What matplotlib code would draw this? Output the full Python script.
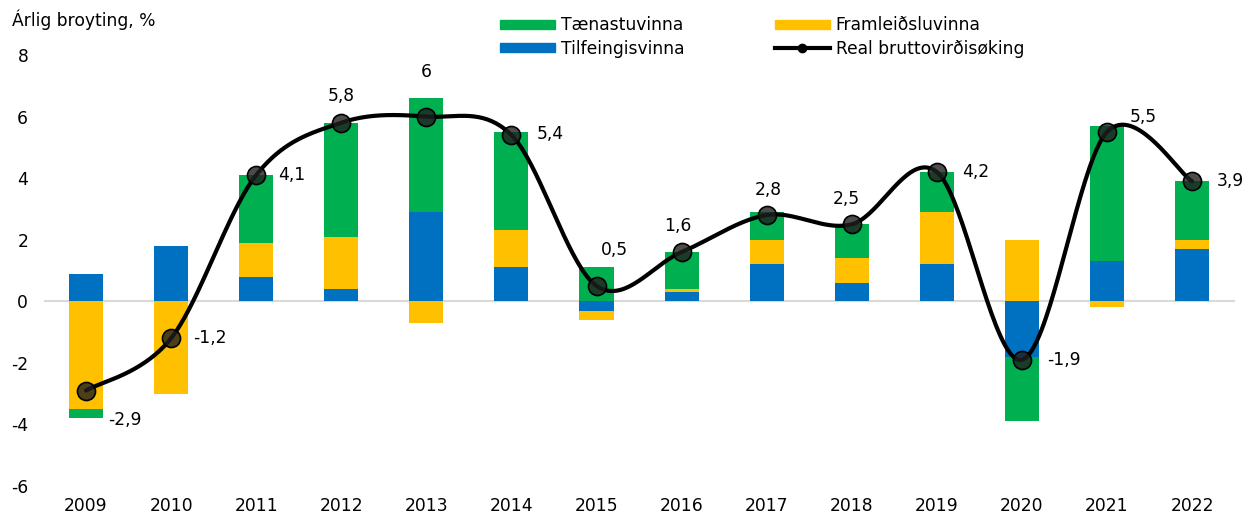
import numpy as np
import matplotlib
matplotlib.use("Agg")
import matplotlib.pyplot as plt
from matplotlib.lines import Line2D
from matplotlib.patches import Patch

years = ["2009", "2010", "2011", "2012", "2013", "2014", "2015", "2016",
         "2017", "2018", "2019", "2020", "2021", "2022"]
tilfeingis = [0.9, 1.8, 0.8, 0.4, 2.9, 1.1, -0.3, 0.3, 1.2, 0.6, 1.2, -1.8, 1.3, 1.7]
framleidslu = [-3.5, -3.0, 1.1, 1.7, -0.7, 1.2, -0.3, 0.1, 0.8, 0.8, 1.7, 2.0, -0.2, 0.3]
taenastu = [-0.3, 0.0, 2.2, 3.7, 3.7, 3.2, 1.1, 1.2, 0.9, 1.1, 1.3, -2.1, 4.4, 1.9]
real_growth = [-2.9, -1.2, 4.1, 5.8, 6.0, 5.4, 0.5, 1.6, 2.8, 2.5, 4.2, -1.9, 5.5, 3.9]
value_labels = ["-2,9", "-1,2", "4,1", "5,8", "6", "5,4", "0,5", "1,6",
                "2,8", "2,5", "4,2", "-1,9", "5,5", "3,9"]
yticks = [-6, -4, -2, 0, 2, 4, 6, 8]

GREEN = "#00B050"
YELLOW = "#FFC000"
BLUE = "#0070C0"

plt.rcParams["font.family"] = ["DejaVu Sans"]
FS = 12.3

fig = plt.figure(figsize=(12.45, 5.18), dpi=100)
ax = fig.add_axes([43.5 / 1245, 32 / 518, (1234.6 - 43.5) / 1245, (486 - 55) / 518])

x = np.arange(len(years))
w = 0.4
pos_base = np.zeros(len(years))
neg_base = np.zeros(len(years))
for vals, col in [(tilfeingis, BLUE), (framleidslu, YELLOW), (taenastu, GREEN)]:
    v = np.array(vals, dtype=float)
    bottoms = np.where(v >= 0, pos_base, neg_base)
    ax.bar(x, v, w, bottom=bottoms, color=col, zorder=2, linewidth=0)
    pos_base = pos_base + np.where(v >= 0, v, 0)
    neg_base = neg_base + np.where(v < 0, v, 0)

# smoothed line (Bezier smoothing like Excel)
px = x.astype(float)
py = np.array(real_growth, dtype=float)
cx, cy = [], []
t = np.linspace(0, 1, 40)
n = len(px)
for i in range(n - 1):
    p0 = (px[max(i - 1, 0)], py[max(i - 1, 0)])
    p1 = (px[i], py[i])
    p2 = (px[i + 1], py[i + 1])
    p3 = (px[min(i + 2, n - 1)], py[min(i + 2, n - 1)])
    c1 = (p1[0] + (p2[0] - p0[0]) / 6, p1[1] + (p2[1] - p0[1]) / 6)
    c2 = (p2[0] - (p3[0] - p1[0]) / 6, p2[1] - (p3[1] - p1[1]) / 6)
    bx = (1 - t) ** 3 * p1[0] + 3 * (1 - t) ** 2 * t * c1[0] + 3 * (1 - t) * t ** 2 * c2[0] + t ** 3 * p2[0]
    by = (1 - t) ** 3 * p1[1] + 3 * (1 - t) ** 2 * t * c1[1] + 3 * (1 - t) * t ** 2 * c2[1] + t ** 3 * p2[1]
    cx.extend(bx)
    cy.extend(by)
ax.plot(cx, cy, color="black", lw=3, zorder=3, solid_capstyle="round")
ax.plot(px, py, linestyle="none", marker="o", ms=13, mfc=(0.12, 0.12, 0.12, 0.8),
        mec="black", mew=1.2, zorder=4)

# label offsets in points (dx, dy, ha)
offs = [(16, -21, "left"), (16, 0, "left"), (16, 0, "left"), (0, 19, "center"),
        (0, 32, "center"), (18, 1, "left"), (13, 26, "center"), (-3, 19, "center"),
        (1, 18, "center"), (-4, 18, "center"), (18, 0, "left"), (18, 0, "left"),
        (26, 11, "center"), (18, 0, "left")]
for xi, yi, lab, (dx, dy, ha) in zip(px, py, value_labels, offs):
    ax.annotate(lab, (xi, yi), xytext=(dx, dy), textcoords="offset points",
                ha=ha, va="center", fontsize=FS, color="#000000", zorder=5)

ax.set_xlim(-0.5, len(years) - 0.5)
ax.set_ylim(-6, 8)
ax.set_yticks(yticks)
ax.set_yticklabels([str(v) for v in yticks])
ax.set_xticks(x)
ax.set_xticklabels(years)
ax.tick_params(axis="both", length=0, labelsize=FS, colors="#000000")
ax.tick_params(axis="y", pad=11)
ax.tick_params(axis="x", pad=8)
for s in ax.spines.values():
    s.set_visible(False)
ax.axhline(0, color="#D9D9D9", lw=1.5, zorder=1)

fig.text(12 / 1245, 1 - 20 / 518, "Árlig broyting, %", fontsize=FS, va="center", ha="left")

handles = [Patch(color=GREEN), Patch(color=BLUE), Patch(color=YELLOW),
           Line2D([0], [0], color="black", lw=3, marker="o", ms=6)]
labels = ["Tænastuvinna", "Tilfeingisvinna", "Framleiðsluvinna", "Real bruttovirðisøking"]
leg = fig.legend(handles, labels, ncol=2, loc="center left",
                 bbox_to_anchor=(485 / 1245, 1 - 37 / 518), frameon=False,
                 fontsize=FS, handlelength=3.2, handleheight=0.5, handletextpad=0.35,
                 columnspacing=5.3, labelspacing=0.3)

fig.savefig("out.png", dpi=100)
